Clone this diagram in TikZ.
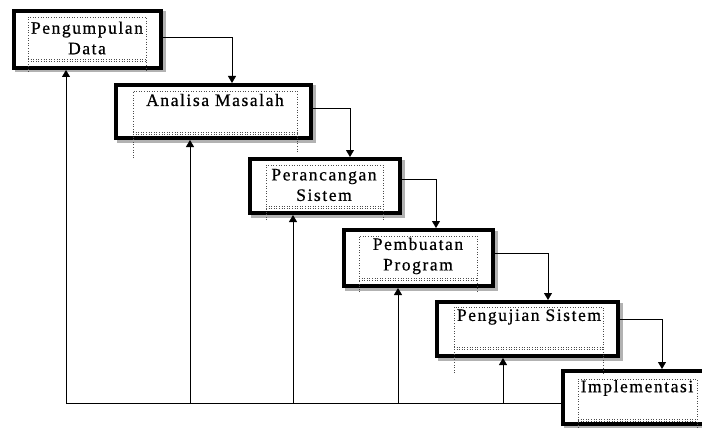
\documentclass[tikz,border=0pt]{standalone}
\usepackage{fontspec}
\setmainfont{Liberation Serif}[LetterSpace=9,FakeBold=0.6]
\usetikzlibrary{arrows.meta}
\begin{document}
\begin{tikzpicture}[x=1pt,y=-1pt,
  box/.style={draw=black, line width=4pt, fill=white, minimum width=#1, inner sep=0pt,
    preaction={draw=black!30, line width=4pt, transform canvas={shift={(2.5pt,-2.5pt)}}}},
  lbl/.style={align=center, inner sep=0pt, font=\fontsize{17.5}{20.5}\selectfont},
  arr/.style={draw=black, line width=0.8pt, -{Triangle[length=7pt,width=8pt]}},
  frm/.style={draw=black!70, dotted, line width=0.6pt}]
\useasboundingbox (0,0) rectangle (702,428);
\clip (0,0) rectangle (702,428);

% boxes
\node[box=147pt, minimum height=57pt] (b1) at (87.5,39.5) {};
\node[box=195pt, minimum height=53pt] (b2) at (213.5,111.5) {};
\node[box=150pt, minimum height=54pt] (b3) at (325,186) {};
\node[box=149pt, minimum height=56pt] (b4) at (418.5,258) {};
\node[box=181pt, minimum height=54pt] (b5) at (527.5,329) {};
\node[box=149pt, minimum height=53pt] (b6) at (637.5,397.5) {};

% dotted text frames
\draw[frm] (28,72) -- (28,17) -- (146,17) -- (146,72);
\draw[frm] (28,59) -- (146,59); \draw[frm] (28,61) -- (146,61);
\draw[frm] (133,158) -- (133,91) -- (297,91) -- (297,153);
\draw[frm] (133,132) -- (297,132); \draw[frm] (133,134) -- (297,134);
\draw[frm] (266,220) -- (266,165) -- (383,165) -- (383,220);
\draw[frm] (266,206) -- (383,206); \draw[frm] (266,208) -- (383,208);
\draw[frm] (359,292) -- (359,236) -- (477,236) -- (477,292);
\draw[frm] (359,278) -- (477,278); \draw[frm] (359,280) -- (477,280);
\draw[frm] (454,373) -- (454,307) -- (603,307) -- (603,373);
\draw[frm] (454,347) -- (603,347); \draw[frm] (454,349) -- (603,349);
\draw[frm] (578,428) -- (578,379) -- (697,379) -- (697,428);
\draw[frm] (578,419) -- (697,419); \draw[frm] (578,421) -- (697,421);

% labels
\node[lbl] (t1) at (87,38) {Pengumpulan\\Data};
\node[lbl] (t2) at (215,100) {Analisa Masalah};
\node[lbl] (t3) at (324,185) {Perancangan\\Sistem};
\node[lbl] (t4) at (418,256) {Pembuatan\\Program};
\node[lbl] (t5) at (529,317) {Pengujian Sistem};
\node[lbl] (t6) at (637,388) {Implementasi};

% forward arrows
\draw[arr] ([yshift=2.5pt]b1.east) -| ([xshift=18.5pt]b2.north);
\draw[arr] ([yshift=3.5pt]b2.east) -| ([xshift=25pt]b3.north);
\draw[arr] ([yshift=7pt]b3.east) -| ([xshift=17.5pt]b4.north);
\draw[arr] ([yshift=5pt]b4.east) -| ([xshift=20.5pt]b5.north);
\draw[arr] ([yshift=10pt]b5.east) -| ([xshift=24.5pt]b6.north);

% feedback
\coordinate (f) at ([yshift=-5.5pt]b6.west);
\coordinate (i1) at ([xshift=-21.5pt]b1.south);
\coordinate (i2) at ([xshift=-23.5pt]b2.south);
\coordinate (i3) at ([xshift=-32pt]b3.south);
\coordinate (i4) at ([xshift=-20.5pt]b4.south);
\coordinate (i5) at ([xshift=-24.5pt]b5.south);
\draw[arr] (f) -| (i1);
\draw[arr] (f -| i2) -- (i2);
\draw[arr] (f -| i3) -- (i3);
\draw[arr] (f -| i4) -- (i4);
\draw[arr] (f -| i5) -- (i5);
\end{tikzpicture}
\end{document}
